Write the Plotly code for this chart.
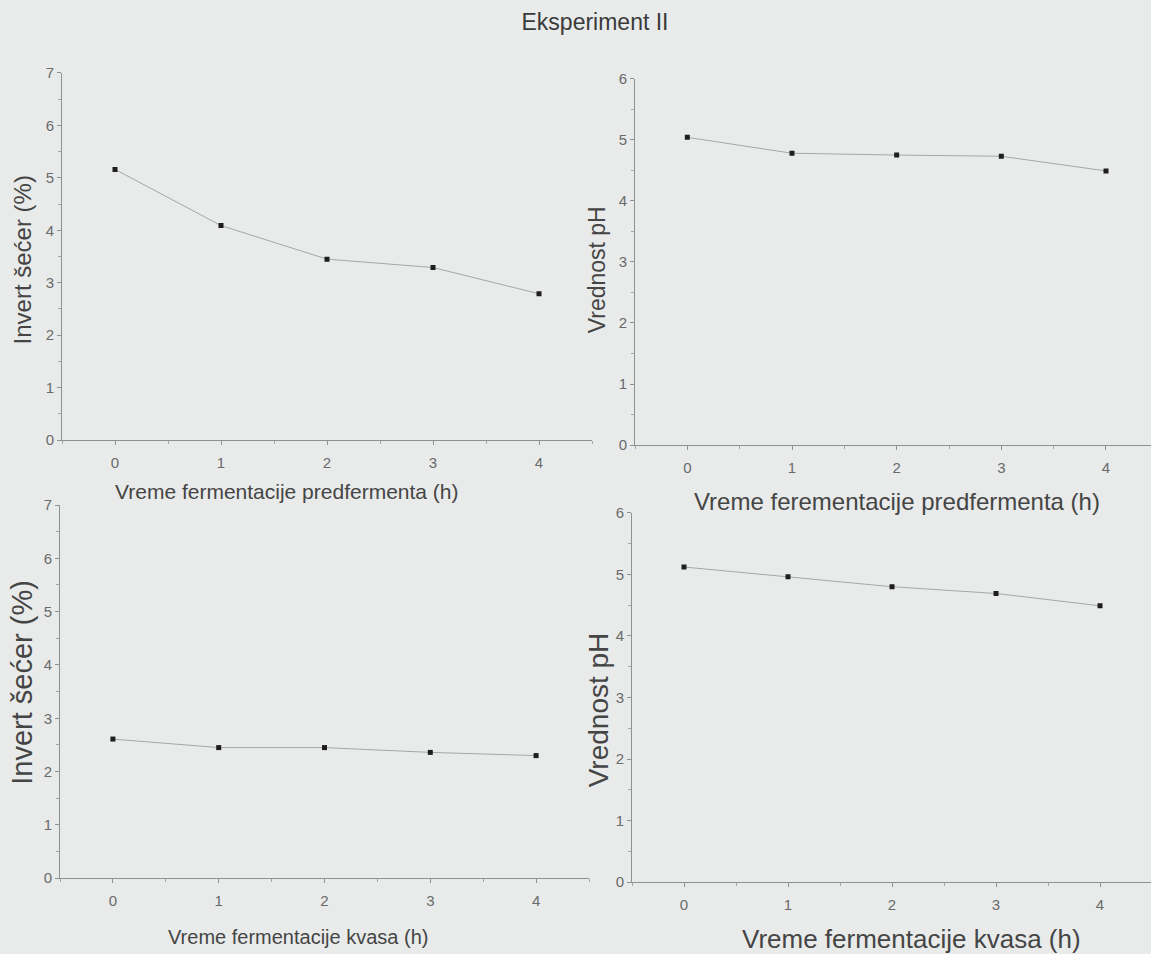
import plotly.graph_objects as go

W, H = 1151, 954

hours = [0, 1, 2, 3, 4]
invert_predferment = [5.16, 4.09, 3.45, 3.29, 2.79]
ph_predferment = [5.04, 4.78, 4.75, 4.73, 4.49]
invert_kvasa = [2.61, 2.45, 2.45, 2.36, 2.30]
ph_kvasa = [5.12, 4.96, 4.80, 4.69, 4.49]

title_text = "Eksperiment II"
xlabels = ["Vreme fermentacije predfermenta (h)",
           "Vreme ferementacije predfermenta (h)",
           "Vreme fermentacije kvasa (h)",
           "Vreme fermentacije kvasa (h)"]
ylabels = ["Invert šećer (%)", "Vrednost pH", "Invert šećer (%)", "Vrednost pH"]
series = [invert_predferment, ph_predferment, invert_kvasa, ph_kvasa]

BG = "#e8ebea"
FONT = "Liberation Sans, Arial"
TXT = "#454545"

# panel pixel boxes: (left, right, top, bottom), x range, y range
panels = [
    ((62, 592, 65, 439), [-0.5, 4.5], [0, 7]),
    ((635, 1151, 71, 444), [-0.5, 4.43], [0, 6]),
    ((60, 589, 505, 885), [-0.5, 4.5], [0, 7]),
    ((632, 1151, 513, 889), [-0.5, 4.49], [0, 6]),
]
# axis-title placement: (x px, y px, font size)
xtitle_pos = [(287, 491, 21), (897, 501, 24), (298, 945, 20), (911, 947, 26)]
ytitle_pos = [(22, 256, 24), (597, 266, 23), (22, 686, 29), (598, 714, 28)]

fig = go.Figure()
layout = {}
for i, ((l, r, t, b), xr, yr) in enumerate(panels):
    n = "" if i == 0 else str(i + 1)
    fig.add_trace(go.Scatter(
        x=hours, y=series[i], mode="lines+markers",
        xaxis="x" + n, yaxis="y" + n,
        line=dict(color="#a4a8a6", width=1),
        marker=dict(symbol="square", size=5, color="#1e1e1e"),
        showlegend=False, hoverinfo="x+y"))
    common = dict(showgrid=False, zeroline=False, showline=True, linecolor="#8e9290",
                  linewidth=1, ticks="outside", ticklen=4, tickcolor="#8e9290",
                  tickfont=dict(family=FONT, size=15, color="#6a6a6a"))
    layout["xaxis" + n] = dict(common, domain=[l / W, r / W], range=xr,
                               anchor="y" + n, tickvals=[0, 1, 2, 3, 4], ticklabelstandoff=5,
                               minor=dict(ticks="outside", ticklen=3, tickcolor="#a4a8a6", dtick=0.5, tick0=0.5))
    layout["yaxis" + n] = dict(common, domain=[1 - b / H, 1 - t / H], range=yr,
                               anchor="x" + n, dtick=1,
                               minor=dict(ticks="outside", ticklen=3, tickcolor="#a4a8a6", dtick=0.5))

fig.update_layout(**layout)

annotations = []
for i in range(4):
    xp, yp, fs = xtitle_pos[i]
    annotations.append(dict(text=xlabels[i], x=xp / W, y=1 - yp / H, xref="paper", yref="paper",
                            xanchor="center", yanchor="middle", showarrow=False,
                            font=dict(family=FONT, size=fs, color=TXT)))
    xp, yp, fs = ytitle_pos[i]
    annotations.append(dict(text=ylabels[i], x=xp / W, y=1 - yp / H, xref="paper", yref="paper",
                            xanchor="center", yanchor="middle", showarrow=False, textangle=-90,
                            font=dict(family=FONT, size=fs, color=TXT)))

fig.update_layout(
    width=W, height=H,
    margin=dict(l=0, r=0, t=0, b=0),
    paper_bgcolor=BG, plot_bgcolor=BG,
    annotations=annotations,
    title=dict(text=title_text, x=595 / W, xanchor="center", y=1 - 22 / H, yanchor="middle",
               font=dict(family=FONT, size=23, color="#3a3a3a")),
)

fig.write_html("out.html", config={"displayModeBar": False},
               post_script="document.body.style.margin='0';document.body.style.overflow='hidden';")
